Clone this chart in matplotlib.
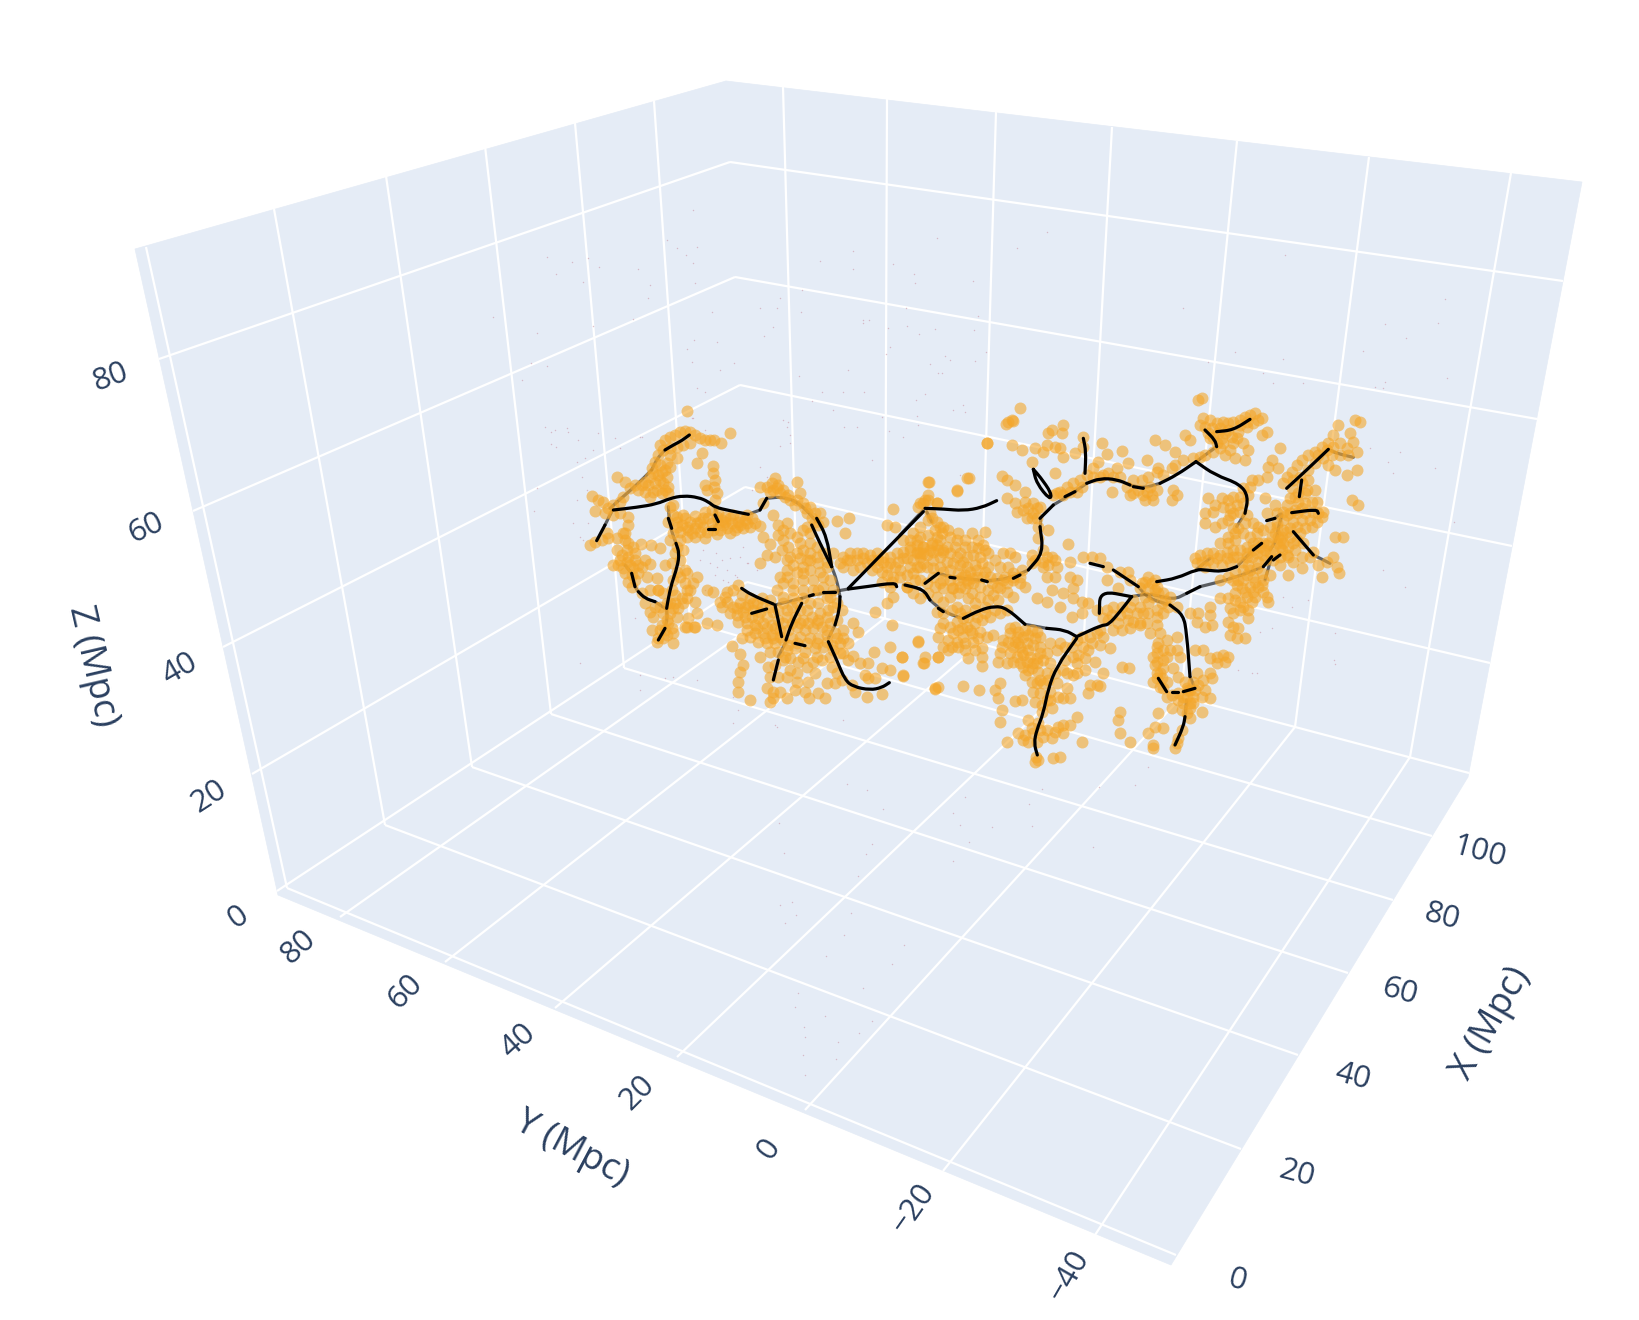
import numpy as np
import matplotlib
matplotlib.use("Agg")
import matplotlib.pyplot as plt
from matplotlib.patches import Polygon, PathPatch
from matplotlib.path import Path

x_wall_top = [(146, 247), (274, 209), (386, 176), (485, 146), (575, 123), (654, 101)]
x_wall_bottom = [(287, 888), (385, 825), (472, 767), (551, 714), (624, 668), (690, 622)]
x_floor_end = [(1176, 1255), (1241, 1149), (1298, 1055), (1348, 973), (1393, 900), (1432, 836)]
y_wall_top = [(783, 87), (887, 99), (996, 112), (1112, 127), (1237, 141), (1369, 157), (1511, 173)]
y_wall_bottom = [(797, 595), (885, 618), (980, 644), (1082, 671), (1181, 697), (1295, 727), (1410, 757)]
y_floor_end = [(340, 917), (445, 962), (555, 1008), (677, 1057), (805, 1110), (943, 1171), (1095, 1235)]
z_left_end = [(252, 774), (223, 647), (193, 511), (159, 359)]
z_back = [(745, 487), (740, 385), (735, 277), (730, 162)]
z_right_end = [(1490, 663), (1512, 546), (1537, 419), (1563, 281)]

left_pane = [(135, 249), (726, 81), (747, 582), (278, 895)]
right_pane = [(726, 81), (1582, 182), (1468, 777), (747, 582)]
floor_pane = [(278, 895), (747, 582), (1468, 777), (1171, 1265)]

z_ticks = ["0", "20", "40", "60", "80"]
z_tick_pos = [(238, 917), (209, 797), (180, 669), (146, 528), (110, 377)]
y_ticks = ["80", "60", "40", "20", "0", "\u221220", "\u221240"]
y_tick_pos = [(298, 947), (405, 992), (518, 1041), (638, 1093), (769, 1149), (913, 1208), (1069, 1276)]
x_ticks = ["0", "20", "40", "60", "80", "100"]
x_tick_pos = [(1237, 1281), (1297, 1174), (1353, 1077), (1400, 992), (1442, 917), (1479, 852)]

halos_a_nw = [(350,62),(480,130),(270,165),(285,150),(300,140),(315,135),(330,125),(345,122),(360,125),(375,135),(390,145),(405,150),
    (420,150),(432,150),(453,160),(360,160),(340,165),(320,170),(300,175),(280,180),(265,195),(300,195),(320,205),(395,190),(380,218),
    (430,228),(430,248),(435,270),(432,290),(405,285),(410,300),(440,310),(435,330),(255,215),(245,235),(270,225),(285,240),(265,255),
    (290,260),(240,262),(255,280),(280,280),(295,290),(235,285),(215,285),(195,285),(180,295),(165,275),(140,262),(205,300),(225,305),
    (250,305),(275,310),(295,310),(160,320),(150,335),(130,345),(115,355),(100,335),(85,330),(65,318),(75,362),(105,370),(130,375),
    (150,370),(175,380),(175,405),(110,430),(95,450),(75,455),(60,465),(115,445),(140,445),(160,430),(165,450),(270,270),(250,250),(225,275),
    (290,220),(275,245),(300,230),(260,300),(240,320),(285,300)]
halos_a_band = [(300,350),(310,375),(295,395),(320,395),(345,385),(375,378),(405,365),(425,360),(445,370),(350,410),(375,415),(400,410),
    (425,400),(445,400),(465,395),(485,400),(505,395),(525,390),(545,385),(470,415),(495,420),(520,415),(540,410),(555,400),(570,408),
    (330,425),(310,430),(350,440),(375,440),(405,445),(430,420),(330,450),(300,450),(460,405),(480,385),(510,405),(530,400),(335,405),
    (360,395),(390,395),(415,385),(450,420),(320,380),(340,375),(355,420),(380,400),(410,425),(440,380),(465,380),(490,375),(510,380),
    (530,375),(480,430),(440,432),(500,410),(455,390),(390,425),(365,430),(320,410),(310,345),(400,385)]
halos_a_west = [(320,470),(340,480),(315,490),(330,510),(305,520),(285,525),(345,540),(320,545),(330,560),(310,570),(350,550),(345,580),
    (380,560),(370,580),(360,600),(305,600),(280,610),(265,600),(240,600),(290,640),(315,640),(325,655),(350,625),(375,635),(380,670),
    (355,685),(320,680),(300,670),(290,690),(305,715),(285,720),(270,720),(345,712),(372,710),(245,720),(265,745),(260,755),(310,758),
    (310,730),(165,430),(175,460),(190,470),(140,480),(155,495),(175,500),(195,510),(145,525),(160,535),(180,525),(205,525),(215,530),
    (240,522),(130,525),(270,475),(243,465),(213,462),(165,550),(185,555),(205,550),(185,590),(230,560),(260,565),(265,600),(215,610),
    (225,640),(240,665),(255,650),(270,650),(250,680),(170,515),(190,535),(150,510),(300,640),(280,670),(310,655),(275,705),(295,700),
    (335,625),(315,615),(290,735),(280,745),(170,480),(195,490),(225,510),(195,570),(175,575),(350,600),(340,640)]
halos_a_arch = [(570,292),(590,290),(605,280),(615,265),(625,285),(640,300),(655,315),(680,275),(690,310),(680,330),(700,340),(720,350),
    (735,370),(750,370),(600,305),(580,340),(610,375),(625,405),(650,400),(580,440),(600,462),(625,435),(640,450),(655,470),(635,480),
    (615,500),(590,495),(570,520),(660,500),(680,490),(700,480),(720,490),(740,500),(700,420),(720,430),(760,395),(800,393),(838,385),
    (825,430),(610,300),(630,310),(660,330),(710,370),(725,385),(710,410),(650,540),(630,560),(620,600),(670,525),(700,530),(720,540),
    (745,520),(770,515),(790,490),(640,580),(670,580),(700,570),(730,570),(760,560),(780,570),(790,600),(690,505),(710,510),(650,510),
    (640,420),(660,430),(680,440),(690,460),(720,460),(740,470),(760,490),(770,530),(750,545),(720,510),(680,545),(650,560),(700,550),
    (670,600),(700,600),(730,600),(760,590),(640,620),(670,625),(700,625),(745,600),(780,620),(800,640),(815,660),(770,680),(740,700),
    (710,660),(680,640),(650,660),(625,660),(600,650),(575,650),(550,660),(525,680),(500,655),(565,685),(590,715),(615,715),(640,700),
    (665,700),(690,700),(715,700),(745,690),(770,720),(800,745),(820,745),(630,740),(655,765),(680,760),(710,760),(740,760),(770,755),
    (790,780),(820,790),(835,810),(620,295),(645,320),(675,345),(705,355),(735,395),(745,405)]
halos_a_east = [(820,500),(840,490),(860,490),(880,490),(900,495),(920,490),(940,500),(960,500),(980,490),(1000,505),(820,530),(850,540),
    (890,520),(920,530),(950,530),(970,560),(990,540),(1040,530),(1010,590),(970,620),(950,640),(915,665),(965,705),(1050,490),(1060,520),
    (810,520),(830,510),(860,510),(940,515),(960,520),(975,530),(950,555),(935,575),(960,590),(985,515),(1045,755),(968,358),(950,405),
    (975,412),(1075,275),(1160,302),(1190,265),(1075,330),(1060,340),(1045,350),(1100,340),(1085,385),(1110,410),(1100,440),(1120,480),
    (1085,460),(1060,470),(1040,450),(1020,470),(1040,490),(840,510),(880,505),(905,510),(925,510),(870,530),(905,540),(935,545),(965,575)]
halos_a_low = [(410,600),(430,605),(470,605),(505,585),(490,600),(515,615),(540,625),(470,635),(455,650),(490,650),(510,640),(535,645),
    (560,640),(480,670),(500,675),(520,665),(545,680),(570,665),(590,680),(610,665),(640,640),(665,650),(690,660),(720,640),(745,640),
    (770,625),(505,695),(530,700),(555,705),(580,700),(605,705),(625,690),(650,680),(675,680),(700,690),(725,680),(750,670),(775,660),
    (790,650),(410,698),(440,705),(350,712),(375,710),(555,730),(580,730),(605,735),(630,720),(655,720),(680,710),(705,720),(730,715),
    (755,710),(780,700),(800,690),(515,745),(540,740),(565,755),(590,760),(615,760),(640,750),(665,745),(690,740),(720,745),(745,745),
    (770,735),(795,730),(820,720),(485,767),(510,793),(570,800),(600,785),(625,785),(650,780),(675,775),(705,785),(735,775),(760,770),
    (785,765),(810,760),(835,760),(850,700),(865,725),(850,798),(870,820),(895,820),(912,785),(960,770),(997,800),(1065,800),(1060,818),
    (1105,802),(518,825),(510,845),(505,875),(505,905),(540,930),(595,830),(640,810),(615,825),(660,805),(685,815),(730,815),
    (755,810),(780,800),(810,790),(600,860),(625,860),(660,840),(680,850),(710,830),(735,850),(785,830),(800,850),(650,860),(680,875),
    (715,875),(590,895),(610,905),(630,905),(650,925),(610,925),(600,937),(675,900),(705,905),(718,925),(745,908),(765,925),(770,880),
    (795,880),(815,870),(845,885),(855,905),(890,920),(885,855),(895,865),(935,835),(960,840),(915,865),(935,912),(998,857),(1095,898),(1105,890),
    (465,620),(450,635),(525,650),(550,640),(575,625),(600,630),(530,720),(560,715),(585,745),(610,745),(645,800),(700,805),(740,800)]

halos_b_ne = [(905,55),(895,60),(1065,100),(1050,105),(1035,110),(1020,120),(1000,125),(985,130),(970,125),(950,130),(930,120),(910,115),
    (900,135),(915,140),(935,145),(955,160),(975,160),(995,170),(1015,155),(1040,140),(1060,130),(1075,120),(1085,115),(1100,155),(1085,165),
    (970,190),(950,190),(930,175),(1000,190),(1030,190),(1045,210),(1035,240),(990,210),(975,225),(1005,235),(960,205),(855,165),(870,180),
    (765,180),(795,195),(825,215),(940,215),(915,225),(900,230),(880,235),(850,240),(825,255),(815,265),(790,285),(775,265),(770,275),
    (745,290),(725,300),(700,300),(680,320),(715,330),(740,335),(755,345),(770,330),(735,360),(820,330),(830,345),(815,360),(690,345),
    (635,337),(740,240),(665,212),(620,222),(605,190),(685,250),(650,265),(625,280),(595,245),(580,265),(600,290),(560,285),(540,300),
    (520,310),(500,320),(480,335),(460,345),(530,335),(545,320),(525,220),(550,170),(550,200),(490,135),(455,150),(445,160),(485,160),
    (440,195),(465,200),(480,205),(430,215),(405,205),(365,210),(335,195),(395,245),(490,230),(465,280),(360,85),(335,120),(325,125),
    (340,122),(318,133),(260,188),(260,188),(1020,135),(985,150),(960,145),(1040,125),(925,160),(940,170),(965,175),(1010,175),
    (660,290),(640,290),(610,285),(580,290),(750,320),(730,345),(700,340),(760,360)]
halos_b_ridge = [(88,305),(208,295),(170,330),(305,287),(345,315),(320,300),(375,335),(320,355),(345,370),(375,365),(400,370),(420,380),
    (385,385),(400,400),(410,415),(380,415),(445,450),(415,475),(505,493),(430,510),(395,525),(440,530),(465,540),(445,555),(470,560),
    (430,560),(395,550),(365,570),(340,580),(315,590),(440,590),(465,590),(510,335),(490,345),(470,340),(410,385),(395,415),(370,390),
    (350,395),(415,440),(430,545),(405,540),(455,530),(360,590),(340,590)]
halos_b_west = [(75,360),(60,370),(85,345),(110,370),(90,400),(110,425),(85,420),(60,440),(40,460),(60,470),(85,465),(105,450),(130,440),
    (145,450),(120,480),(95,495),(70,500),(50,495),(30,480),(10,480),(175,460),(195,480),(215,460),(255,455),(235,480),(250,495),(140,500),
    (165,500),(180,520),(200,530),(220,525),(240,530),(265,520),(120,530),(100,540),(80,525),(60,530),(40,540),(20,535),(140,545),(160,550),
    (180,555),(200,560),(225,555),(245,550),(265,560),(285,540),(310,520),(330,520),(345,530),(300,560),(325,560),(250,590),(270,590),
    (290,595),(310,600),(340,600),(360,610),(100,590),(120,610),(150,600),(175,600),(200,600),(220,610),(240,620),(265,630),(290,620),
    (320,635),(340,650),(0,590),(20,585),(40,580),(60,600),(20,620),(40,640),(60,655),(85,640),(110,650),(130,665),(150,650),(175,640),
    (195,625),(215,640),(240,650),(265,660),(295,660),(170,680),(155,690),(130,700),(110,695),(150,520),(170,530),(190,545),(210,575),
    (230,590),(130,575),(150,570),(175,580),(195,585),(215,595),(115,510),(100,515),(130,625),(155,625),(180,620),(205,655),(225,670),
    (125,460),(150,470),(170,480),(195,500),(215,500),(235,505),(255,510),(110,495),(130,515),(90,510),(70,520),(50,515),(30,510),(10,515),
    (60,560),(80,560),(100,565),(120,560),(30,560),(45,600),(80,610),(105,620),(130,600),(160,625),(185,590),(205,610),(230,570),(255,575),
    (275,610),(300,625),(320,610),(280,645),(255,680),(225,690),(195,690),(180,700),(205,710),(230,710),(255,700),(285,690)]
halos_b_south = [(190,715),(170,725),(150,740),(175,750),(200,740),(225,730),(245,720),(270,710),(300,700),(320,690),(120,745),(190,770),
    (215,760),(240,755),(260,770),(280,765),(145,780),(170,785),(195,790),(220,785),(245,805),(130,800),(145,810),(175,800),(205,835),
    (245,830),(245,858),(115,832),(72,850),(55,783),(5,830),(10,885),(105,925),(190,918),(238,930),(285,930),(300,908),(295,955),
    (345,962),(365,960),(305,990),(300,1025),(320,1085),(355,1060),(310,780),(330,760),(350,770),(370,770),(395,750),(420,770),(340,800),
    (360,800),(380,790),(400,795),(420,800),(330,820),(350,830),(370,825),(390,830),(410,835),(295,845),(320,848),(370,860),(395,865),
    (415,875),(375,885),(430,840),(450,850),(465,880),(500,880),(520,885),(530,850),(535,825),(565,810),(600,795),(630,805),(665,860),
    (688,865),(610,880),(555,870),(530,880),(570,915),(590,915),(600,917),(565,940),(500,925),(490,955),(510,955),(475,950),(450,960),
    (420,940),(400,935),(430,910),(410,910),(405,965),(425,975),(450,935),(455,985),(532,1010),(510,1035),(490,1035),(440,1050),(420,1050),
    (400,1060),(465,1055),(490,1060),(385,1020),(415,1030),(370,1080),(385,1085),(410,1085),(545,1085),(408,1130),(415,1140),(405,1145),
    (458,1135),(480,1132),(375,1065),(355,755),(375,750),(345,785),(365,815),(385,810),(405,775),(400,850),(420,820),(380,845),
    (130,730),(160,760),(185,745),(210,750),(235,775),(115,770),(155,800),(195,810),(225,810),(330,745),(345,740),(385,765),(410,755),
    (355,790),(325,785),(305,800),(300,820),(340,845),(360,850),(385,870),(410,850),(440,820),(450,790),(470,810),(495,800),(515,800),
    (530,780),(550,800),(575,790),(610,770),(495,840),(490,870),(440,880),(420,900),(440,960),(470,910),(555,835),(585,845),
    (430,1070),(455,1075),(475,1040),(395,1045),(425,995),(395,905),(445,900),(520,830),(480,790)]
halos_b_mid = [(550,530),(575,530),(600,535),(620,560),(660,575),(685,575),(690,600),(655,625),(620,600),(510,590),(530,600),(520,625),
    (490,640),(520,655),(480,680),(545,665),(515,710),(545,700),(565,670),(590,690),(620,690),(640,680),(665,680),(690,680),(710,700),
    (685,720),(655,730),(625,720),(590,760),(570,770),(545,770),(600,750),(640,750),(665,750),(690,745),(720,735),(740,730),(770,735),
    (510,545),(410,655),(440,665),(375,620),(455,630),(745,590),(765,600),(735,605),(720,625),(745,625),(770,620),(790,640),(810,650),
    (760,650),(785,670),(805,680),(770,690),(830,680),(870,700),(895,700),(930,680),(930,705),(935,735),(915,740),(890,725),(1000,740),
    (1015,745),(990,765),(1010,775),(1035,775),(985,725),(720,730),(750,760),(780,760),(700,660),(720,680),(745,700),(770,710),(790,700),
    (745,670),(765,630),(735,650),(725,610),(755,610),(775,640),(795,660),(680,700),(660,705),(635,705),(610,715),(730,700),(700,725)]
halos_b_foot = [(775,790),(800,780),(830,770),(770,820),(790,840),(765,855),(770,880),(760,905),(780,920),(810,810),(830,810),(840,830),
    (790,865),(820,865),(835,890),(885,810),(910,810),(930,835),(950,830),(970,825),(985,830),(975,845),(950,850),(930,880),(910,900),
    (890,880),(935,895),(885,930),(880,950),(860,950),(850,970),(870,985),(835,960),(815,985),(905,995),(930,955),(775,1000),(765,1040),
    (745,1060),(790,1045),(760,1095),(760,1105),(830,1090),(835,1075),(845,1050),(870,1015),(825,1105),(660,995),(655,1020),(660,1060),
    (690,1085),(770,845),(785,895),(800,905),(860,925),(855,905),(880,905),(870,970),(770,800),(790,810),(760,830),(800,830),(780,880),
    (770,895),(790,925),(870,930),(895,915),(915,930),(905,950),(880,970),(850,950),(865,930),(835,940),(815,945),(800,950),(845,990),(860,1000)]
halos_b_east = [(1300,165),(1315,135),(1350,160),(1365,120),(1380,125),(1360,185),(1285,190),(1265,200),(1245,215),(1225,225),(1205,240),
    (1190,255),(1175,275),(1160,290),(1150,310),(1140,205),(1115,240),(1135,265),(1105,260),(1100,290),(1075,300),(1055,300),(1050,320),
    (1030,325),(1045,345),(1225,270),(1245,250),(1270,235),(1295,225),(1320,225),(1345,225),(1370,215),(1370,270),(1340,285),(1305,270),
    (1285,255),(1180,300),(1200,290),(1175,325),(1195,340),(1220,330),(1245,330),(1235,365),(1215,370),(1195,365),(1170,355),(1160,375),
    (1160,405),(1180,425),(1205,420),(1230,420),(1255,400),(1265,410),(1095,355),(1355,360),(1375,375),(1305,470),(1330,472),(1240,515),
    (1300,530),(1280,545),(1255,555),(1310,560),(1318,578),(1265,590),(1230,530),(1205,530),(1185,510),(1165,500),(1140,500),(1145,470),
    (1130,440),(1150,450),(1115,470),(1090,490),(1060,490),(1040,500),(1020,510),(1000,510),(980,515),(960,525),(940,520),(920,520),
    (900,525),(885,535),(890,550),(915,560),(940,550),(965,555),(990,545),(1010,530),(1040,530),(1070,520),(1095,510),(1120,510),(1140,530),
    (1165,530),(1180,545),(1205,565),(1165,585),(1140,555),(1120,540),(1095,540),(1075,545),(1045,555),(1030,570),(1005,575),(985,590),
    (960,600),(1000,600),(1030,600),(1060,590),(1085,580),(1110,585),(1075,620),(1050,620),(1025,625),(1005,640),(1040,650),(1065,650),
    (1090,635),(1105,665),(1020,665),(1045,690),(1020,690),(1045,715),(985,655),(960,655),(990,685),(1000,700),(1000,350),(985,360),
    (965,355),(1010,375),(990,385),(970,380),(945,375),(925,355),(940,395),(915,400),(915,430),(945,440),(965,430),(985,420),(1000,400),
    (1040,405),(1060,430),(1035,430),(1000,445),(1015,445),(1070,460),(1090,450),(1110,440),(1130,430),(1130,490),(1125,460),(1105,490),
    (1075,490),(1050,470),(1150,490),(1170,470),(1190,480),(1210,490),(1030,460),(1005,480),(985,490),(1060,510),(1090,525),
    (960,490),(985,470),(1005,460),(1075,440),(1135,470),(1100,400),(1130,400),(1150,420),(1170,400),(1190,400),(1215,400),(1240,395),
    (1190,440),(1170,445),(1200,460),(1180,490),(1160,525),(1145,510),(1100,495),(1040,520),(1000,530),(980,535),(950,535),(925,540),
    (905,545),(1050,570),(1070,565),(1090,600),(1065,605),(1040,585),(1015,600),(1010,615),(1035,635),(1060,635),(1085,615),(1100,650),
    (1055,665),(1030,680),(1005,660),(1185,350),(1205,385),(1185,390),(1215,340),(1250,365),(1270,395),(1205,310),(1225,300),(1255,225),
    (1280,210),(1300,200),(1340,205),(1320,190),(1020,395),(990,405),(1030,370),(1020,350),(1140,480),(1160,455),(1110,520),(1080,500),
    (1055,530),(1025,545),(1150,395),(1125,375),(1215,445),(1235,440),(1250,425)]

# the tiny gas particles
gas_a = [(85,130),(70,180),(20,215),(215,140),(150,175),(365,85),(405,120),(650,110),(790,60),(905,210),(570,230),(590,260),(545,300),
    (420,520),(440,530),(480,505),(520,470),(500,560),(560,540),(470,540),(30,820),(210,900),(310,860),(490,1000),(620,1010),(1150,60),
    (1000,140),(935,80),(1170,255),(640,90),(660,160),(400,480),(455,510),(510,500),(435,555),(530,520),(475,575),(25,150),(45,205),(10,400),
    (30,440),(20,330),(50,300),(35,260)]
gas_top = [(400,450),(320,540),(350,563),(410,560),(378,585),(400,610),(85,595),(35,605),(118,620),(233,628),(70,665),(270,675),(405,668),
    (265,715),(218,778),(98,797),(455,757),(600,745),(650,743),(722,757),(612,828),(638,802),(402,840),(472,845),(380,868),(395,905),
    (523,908),(480,930),(725,690),(660,713),(910,780),(927,780),(910,790),(878,573),(780,602),(878,628),(1000,612),(1062,642),(1065,670),
    (1130,533),(1240,663),(1370,565),(1460,515),(1037,745),(1040,797),(1255,768),(1243,810),(1125,808),(1078,822),(985,805),(990,860),
    (978,882),(1155,888),(1277,875),(1170,900),(1245,903),(1110,912),(1145,938),(1135,938),(865,930),(718,948),(785,997),(850,997),
    (912,995),(755,1022),(1068,1020),(1095,1002),(1208,1035),(1215,1055),(1070,1068),(685,1085),(690,1125),(660,1158),(852,1100),(890,1100),
    (988,1113),(1075,1095),(410,985),(435,997),(398,1075),(240,1130),(165,1135),(20,1105),(25,1115)]
gas_full = [(779,823),(784,853),(792,902),(780,905),(796,915),(785,923),(798,993),(795,1007),(804,1027),(805,1037),(803,1055),(805,1075),
    (867,790),(883,809),(953,813),(965,797),(960,825),(969,842),(992,827),(1029,804),(1032,826),(1042,789),(1099,787),(1135,785),(1093,847),
    (872,844),(866,854),(858,876),(851,913),(844,935),(904,945),(892,964),(826,956),(863,988),(825,1016),(872,1021),(859,1033),(838,1042),
    (836,1059),(953,861),(847,784),(547,257),(556,274),(493,317),(537,333),(531,363),(547,366),(522,380),(545,427),(551,432),(555,430),
    (551,444),(556,447),(537,488),(534,511),(1285,255),(1183,308),(1445,299),(1438,323),(1385,324),(1406,338),(1363,351),(1283,359),
    (1235,352),(1208,362),(1263,373),(1273,383),(1303,383),(1385,382),(1383,388),(1447,378),(1375,387),(1388,462),(1435,468),(1393,473),
    (1370,448),(1400,452),(1454,522),(1383,570),(1405,587),(1308,600),(1335,633),(1334,660),(1335,664),(1238,670),(1252,673),(1257,673),
    (1283,597),(1292,607),(1260,632),(1272,628),(1148,767),(700,560),(716,553),(735,575),(748,563),(723,580),(690,600),(705,590),
    (640,675),(665,678),(697,680),(733,697),(738,710),(775,725),(843,720),(635,618),(588,523),(583,540)]

# filaments, crop A
fil_a_solid = [[(285,180),(310,165),(335,152),(358,135)],
    [(130,360),(200,352),(260,342),(300,325),(340,317),(385,322),(415,335),(435,352),(480,362),(535,373)],
    [(80,452),(105,405)],
    [(318,460),(328,490),(322,530),(305,580),(295,625),(290,655)],
    [(265,750),(285,715)],
    [(185,550),(195,590)],[(205,605),(225,625),(255,635)],
    [(295,385),(305,415)],[(415,418),(435,418)],[(435,375),(445,395)],
    [(570,360),(590,325)],
    [(740,385),(770,440),(785,530)],[(725,405),(750,460),(785,530)],
    [(810,620),(808,660),(795,705)],
    [(835,595),(1060,365)],
    [(835,597),(890,590),(975,578),(980,590)],
    [(760,605),(795,605)],[(718,618),(730,614)],
    [(515,595),(545,615),(610,642)],
    [(545,670),(590,657)],
    [(615,645),(635,740)],
    [(695,640),(665,700),(648,750)],
    [(610,870),(625,810)],
    [(675,760),(705,767)],
    [(775,755),(800,810),(825,870),(850,890),(900,900),(935,893),(958,878)]]
fil_a_faint = [[(245,240),(262,205),(285,180)],[(120,355),(165,315),(205,280),(245,240)],
    [(125,365),(105,405)],[(295,350),(300,410),(318,460)],[(290,655),(292,700),(265,750)],
    [(165,525),(185,550)],[(195,590),(205,605)],[(255,635),(285,655)],[(435,352),(445,395),(430,420)],
    [(535,373),(570,360)],[(590,325),(640,320),(690,340),(740,395)],[(785,530),(800,570),(810,620)],
    [(795,705),(775,745)],[(695,625),(725,615),(790,605),(835,597)],[(615,645),(695,625)],
    [(648,755),(625,800)],[(1000,585),(1050,597)]]

# filaments, crop B
fil_b_solid = [[(75,385),(130,387),(190,392),(245,383),(290,362)],
    [(15,615),(70,628),(90,660)],[(115,685),(130,695)],
    [(190,715),(240,690),(285,678),(320,685),(375,733)],[(440,745),(495,750),(530,770)],
    [(75,610),(115,580)],[(150,592),(165,594)],[(245,600),(262,605)],
    [(340,595),(360,585)],[(385,570),(430,518),(420,440)],[(420,415),(460,375)],
    [(495,350),(525,335)],[(560,310),(600,295),(650,298),(690,315)],[(700,320),(730,325)],[(780,310),(830,285),(888,245)],
    [(888,245),(945,285),(1020,312),(1045,350),(1035,400)],
    [(400,268),(410,310),(450,360),(455,340),(420,290),(400,268)],
    [(555,280),(558,215),(550,175)],
    [(530,775),(470,860),(445,925),(430,1000),(410,1050),(402,1090),(412,1125)],
    [(530,770),(605,735),(625,735),(660,695),(695,650)],
    [(695,650),(600,632),(598,700)],
    [(570,550),(610,560)],[(640,570),(715,620)],
    [(810,675),(850,705),(860,760),(870,890)],[(885,925),(850,935)],[(835,935),(815,935)],[(800,935),(775,895)],
    [(770,605),(830,595),(890,568),(915,570),(970,575),(1010,560)],[(1060,510),(1085,490)],
    [(860,640),(900,620)],[(1090,560),(1115,530)],[(1120,540),(1140,525)],
    [(950,200),(945,180),(915,150)],[(950,155),(1000,150),(1050,118)],
    [(1160,325),(1220,270),(1285,208)],
    [(1205,300),(1198,350)],
    [(1175,398),(1250,388),(1255,400)],
    [(1100,422),(1125,415)],
    [(1180,455),(1240,525)],
    [(855,1010),(850,1040),(825,1095)]]
fil_b_faint = [[(0,465),(70,390)],[(80,395),(95,425)],[(90,660),(130,695),(185,715)],[(375,733),(440,745)],
    [(115,580),(160,592),(260,603)],[(260,603),(330,595),(385,570)],[(420,440),(420,415)],[(460,375),(510,345),(560,310)],
    [(690,315),(730,325),(780,310)],[(888,245),(950,200)],[(1035,400),(1010,440)],
    [(715,620),(745,655),(810,675)],[(695,650),(750,640),(820,660),(860,640)],[(900,620),(1000,595),(1090,560)],
    [(1095,600),(1115,530)],[(890,568),(930,535)],[(1010,560),(1060,510)],[(870,890),(885,925),(850,935)],
    [(1285,208),(1310,220),(1360,232)],[(1125,415),(1150,395),(1135,440),(1130,480),(1110,510)],
    [(1240,525),(1290,550)],[(860,960),(855,1010)]]

HALO_LISTS_A = [halos_a_nw, halos_a_band, halos_a_west, halos_a_arch, halos_a_east, halos_a_low]
HALO_LISTS_B = [halos_b_ne, halos_b_ridge, halos_b_west, halos_b_south, halos_b_mid, halos_b_foot, halos_b_east]


def crop_to_image(pts, x0, y0):
    arr = np.array(pts, dtype=float)
    return x0 + arr[:, 0] / 3, y0 + arr[:, 1] / 3


def draw_filament(px, py, z, alpha=1.0):
    # rounded through the read vertices, the original curves are smooth
    pts = np.column_stack([px, py])
    verts = [pts[0]]
    codes = [Path.MOVETO]
    for i in range(1, len(pts) - 1):
        verts.append((pts[i - 1] + pts[i]) / 2)
        codes.append(Path.LINETO)
        verts.extend([pts[i], (pts[i] + pts[i + 1]) / 2])
        codes.extend([Path.CURVE3, Path.CURVE3])
    verts.append(pts[-1])
    codes.append(Path.LINETO)
    ax.add_patch(PathPatch(Path(verts, codes), facecolor="none", edgecolor="black", lw=2.3,
                           capstyle="round", joinstyle="round", alpha=alpha, zorder=z))


plt.rcParams['font.family'] = ['Open Sans', 'DejaVu Sans']
fig = plt.figure(figsize=(16.4, 13.2), dpi=100)
ax = fig.add_axes([0, 0, 1, 1])
ax.set_xlim(0, 1640)
ax.set_ylim(1320, 0)
ax.axis("off")

for pane in [left_pane, right_pane, floor_pane]:
    ax.add_patch(Polygon(pane, closed=True, facecolor="#E5ECF6", edgecolor="#E5ECF6", lw=0.5, zorder=1))


def grid(starts, ends):
    for a, b in zip(starts, ends):
        ax.plot([a[0], b[0]], [a[1], b[1]], color="white", lw=1.6, zorder=2, solid_capstyle="butt")


grid(x_wall_top, x_wall_bottom)
grid(x_wall_bottom, x_floor_end)
grid(y_wall_top, y_wall_bottom)
grid(y_wall_bottom, y_floor_end)
grid(z_left_end, z_back)
grid(z_back, z_right_end)
# the bottom edges of the two walls
grid([(277, 891), (747, 582)], [(747, 582), (1469, 773)])

gx = []
gy = []
for pts, x0, y0 in [(gas_a, 570, 390), (gas_top, 560, 60)]:
    px, py = crop_to_image(pts, x0, y0)
    gx.extend(px)
    gy.extend(py)
gx.extend(p[0] for p in gas_full)
gy.extend(p[1] for p in gas_full)
ax.scatter(gx, gy, s=1.1, color="#C9909F", alpha=0.55, linewidths=0, zorder=3)

# hidden stretches of the filaments sit under the halos
for lines, x0, y0 in [(fil_a_faint, 570, 390), (fil_b_faint, 900, 380)]:
    for line in lines:
        px, py = crop_to_image(line, x0, y0)
        draw_filament(px, py, 3.5, alpha=0.6)

for pts in HALO_LISTS_A:
    px, py = crop_to_image(pts, 570, 390)
    ax.scatter(px, py, s=74, color="#F4A62A", alpha=0.6, linewidths=0, zorder=4)
for pts in HALO_LISTS_B:
    px, py = crop_to_image(pts, 900, 380)
    ax.scatter(px, py, s=74, color="#F4A62A", alpha=0.6, linewidths=0, zorder=4)

for lines, x0, y0 in [(fil_a_solid, 570, 390), (fil_b_solid, 900, 380)]:
    for line in lines:
        px, py = crop_to_image(line, x0, y0)
        draw_filament(px, py, 6)

TEXT = "#2a3f5f"
for lab, pos, rot in zip(z_ticks, z_tick_pos, [35, 33, 30, 25, 20]):
    ax.text(pos[0], pos[1], lab, color=TEXT, fontsize=22.5, rotation=rot, ha="center", va="center", rotation_mode="anchor")
for lab, pos, rot in zip(y_ticks, y_tick_pos, [42, 45, 42, 45, 55, 55, 60]):
    ax.text(pos[0], pos[1], lab, color=TEXT, fontsize=22.5, rotation=rot, ha="center", va="center", rotation_mode="anchor")
for lab, pos in zip(x_ticks, x_tick_pos):
    ax.text(pos[0], pos[1], lab, color=TEXT, fontsize=22.5, rotation=-15, ha="center", va="center", rotation_mode="anchor")

ax.text(92, 666, "Z (Mpc)", color=TEXT, fontsize=26, rotation=-77, ha="center", va="center", rotation_mode="anchor")
ax.text(572, 1149, "Y (Mpc)", color=TEXT, fontsize=26, rotation=-28, ha="center", va="center", rotation_mode="anchor")
ax.text(1491, 1023, "X (Mpc)", color=TEXT, fontsize=26, rotation=60, ha="center", va="center", rotation_mode="anchor")

fig.savefig("out.png", dpi=100, facecolor="white")
